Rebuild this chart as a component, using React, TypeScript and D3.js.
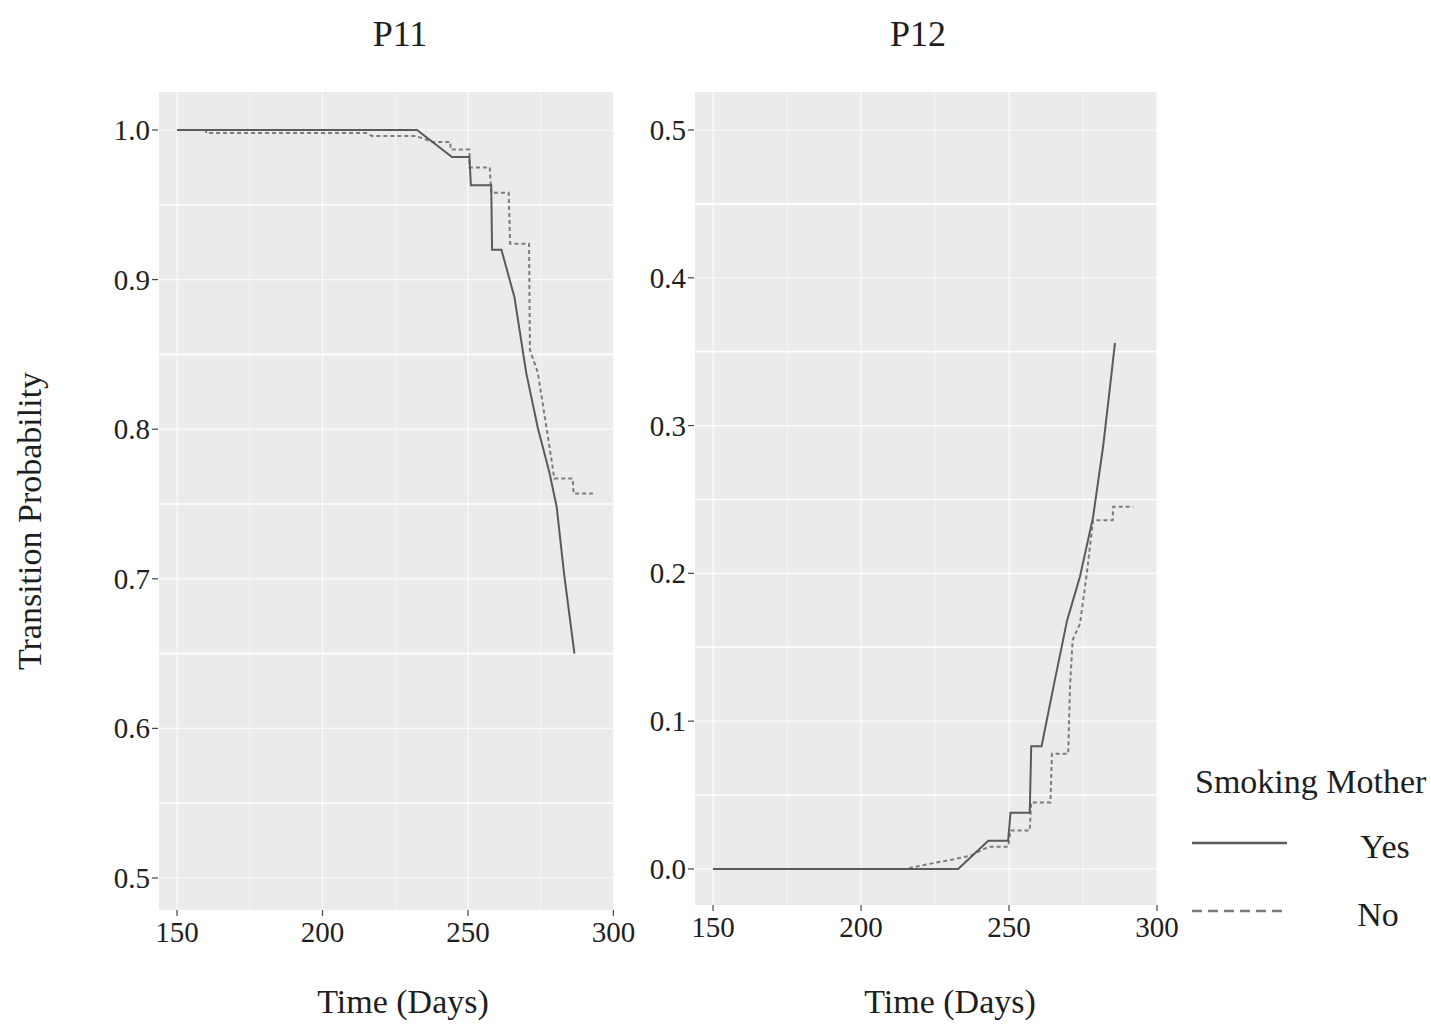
import React from "react";
import * as d3 from "d3";

// values: [day, probability]
const p11Yes: [number, number][] = [
  [150, 1.0], [232.5, 1.0], [244.5, 0.982], [250.5, 0.982], [251, 0.963],
  [258, 0.963], [258.3, 0.92], [261.5, 0.92], [266, 0.888], [270, 0.838],
  [274, 0.801], [278, 0.771], [280.5, 0.748], [283, 0.704], [286.6, 0.65],
];
const p11No: [number, number][] = [
  [150, 1.0], [160, 1.0], [160, 0.998], [215, 0.998], [217, 0.996],
  [232, 0.996], [238, 0.992], [244, 0.992], [244, 0.987], [250.5, 0.987],
  [250.5, 0.975], [257.5, 0.975], [258, 0.958], [264, 0.958], [264.5, 0.924],
  [271, 0.924], [271.3, 0.853], [274, 0.838], [277, 0.801], [279.7, 0.767],
  [286, 0.767], [286.3, 0.757], [293, 0.757],
];
const p12Yes: [number, number][] = [
  [150, 0], [232.8, 0], [243, 0.019], [249.7, 0.019], [250.5, 0.038],
  [257, 0.038], [257.5, 0.083], [261, 0.083], [265, 0.123], [269.6, 0.168],
  [274, 0.198], [278.4, 0.238], [281.8, 0.286], [284, 0.324], [285.8, 0.356],
];
const p12No: [number, number][] = [
  [150, 0], [215, 0], [222, 0.003], [230, 0.006], [237, 0.009], [243, 0.015],
  [249.7, 0.015], [250.5, 0.026], [257, 0.026], [257.5, 0.045], [264, 0.045],
  [264.5, 0.078], [270, 0.078], [270.6, 0.123], [271.5, 0.155], [274, 0.166],
  [276.4, 0.202], [278.4, 0.236], [285, 0.236], [285.2, 0.245], [292, 0.245],
];

const xTicks = [150, 200, 250, 300];
const p11Ticks = [0.5, 0.6, 0.7, 0.8, 0.9, 1.0];
const p12Ticks = [0, 0.1, 0.2, 0.3, 0.4, 0.5];
const legendLabels = ["Yes", "No"];

const FONT = "'Liberation Serif', 'Times New Roman', serif";
const TXT = "#1e1e1e";
const SOLID = "#5a5a5a";
const DASH = "#7c7c7c";

type PanelProps = {
  title: string;
  titleX: number;
  labelX: number;
  left: number; right: number; top: number; bottom: number;
  xDomain: [number, number];
  yDomain: [number, number];
  yTicks: number[];
  yes: [number, number][];
  no: [number, number][];
};

function Panel({title, titleX, labelX, left, right, top, bottom, xDomain, yDomain, yTicks, yes, no}: PanelProps) {
  const x = d3.scaleLinear().domain(xDomain).range([left, right]);
  const y = d3.scaleLinear().domain(yDomain).range([bottom, top]);
  const line = d3.line<[number, number]>().x(d => x(d[0])).y(d => y(d[1]));

  const xMinor = d3.range(150, 301, 25).filter(v => v % 50 !== 0 && v >= xDomain[0] && v <= xDomain[1]);
  const step = yTicks[1] - yTicks[0];
  const yMinor = yTicks.map(v => v + step / 2).filter(v => v < yDomain[1]);

  return (
    <g>
      <text x={titleX} y={46} textAnchor="middle" fontSize={36} fill={TXT}>{title}</text>
      <rect x={left} y={top} width={right - left} height={bottom - top} fill="#ebebeb" />
      {yMinor.map(v => (
        <line key={"ym" + v} x1={left} x2={right} y1={y(v)} y2={y(v)} stroke="#fff" strokeWidth={1.6} />
      ))}
      {yTicks.map(v => (
        <line key={"yg" + v} x1={left} x2={right} y1={y(v)} y2={y(v)} stroke="#fff" strokeWidth={1.2} opacity={0.8} />
      ))}
      {xMinor.map(v => (
        <line key={"xm" + v} x1={x(v)} x2={x(v)} y1={top} y2={bottom} stroke="#fff" strokeWidth={0.8} opacity={0.7} />
      ))}
      {xTicks.map(v => (
        <line key={"xg" + v} x1={x(v)} x2={x(v)} y1={top} y2={bottom} stroke="#fff" strokeWidth={1.2} opacity={0.8} />
      ))}

      <path d={line(no) ?? ""} fill="none" stroke={DASH} strokeWidth={2} strokeDasharray="4 3" />
      <path d={line(yes) ?? ""} fill="none" stroke={SOLID} strokeWidth={2} />

      {yTicks.map(v => (
        <g key={"yt" + v}>
          <line x1={left - 7} x2={left - 1} y1={y(v)} y2={y(v)} stroke="#444" strokeWidth={1.2} />
          <text x={left - 9} y={y(v) + 10} textAnchor="end" fontSize={29} fill={TXT}>{d3.format(".1f")(v)}</text>
        </g>
      ))}
      {xTicks.map(v => (
        <g key={"xt" + v}>
          <line x1={x(v)} x2={x(v)} y1={bottom} y2={bottom + 6} stroke="#444" strokeWidth={1.2} />
          <text x={x(v)} y={bottom + 32} textAnchor="middle" fontSize={29} fill={TXT}>{v}</text>
        </g>
      ))}
      <text x={labelX} y={1013} textAnchor="middle" fontSize={34} fill={TXT}>Time (Days)</text>
    </g>
  );
}

export default function App() {
  return (
    <svg width={1431} height={1025} viewBox="0 0 1431 1025" display="block"
         style={{position: "absolute", left: 0, top: 0, background: "#fff"}} fontFamily={FONT}>
      <rect width={1431} height={1025} fill="#fff" />
      <text transform="translate(41,521) rotate(-90)" textAnchor="middle" fontSize={34} fill={TXT}>
        Transition Probability
      </text>
      <Panel title="P11" titleX={400} labelX={403} left={159} right={614} top={92} bottom={910}
             xDomain={[143.8, 300.2]} yDomain={[0.4786, 1.0254]} yTicks={p11Ticks}
             yes={p11Yes} no={p11No} />
      <Panel title="P12" titleX={918} labelX={950} left={695} right={1157} top={92} bottom={905}
             xDomain={[143.9, 300]} yDomain={[-0.0244, 0.5257]} yTicks={p12Ticks}
             yes={p12Yes} no={p12No} />

      <text x={1195} y={793} fontSize={34} fill={TXT}>Smoking Mother</text>
      {legendLabels.map((lab, i) => {
        const ly = 843 + i * 68;
        return (
          <g key={lab}>
            <line x1={1192} x2={1287} y1={ly} y2={ly}
                  stroke={i === 0 ? SOLID : DASH} strokeWidth={2.5}
                  strokeDasharray={i === 0 ? undefined : "10 6"} />
            <text x={i === 0 ? 1385 : 1378} y={ly + 15} textAnchor="middle" fontSize={34} fill={TXT}>{lab}</text>
          </g>
        );
      })}
    </svg>
  );
}
